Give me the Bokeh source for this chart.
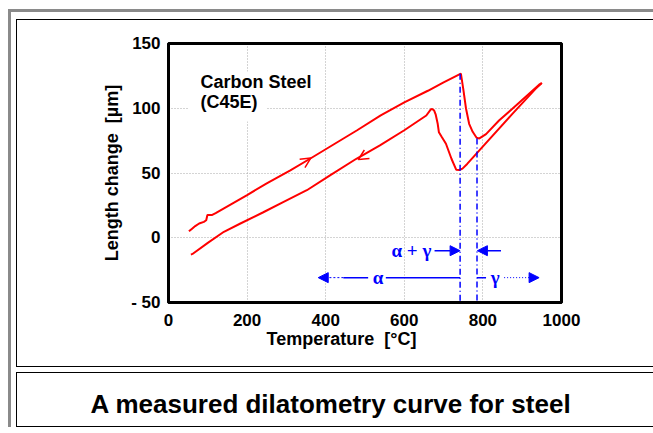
from bokeh.plotting import figure
from bokeh.models import (Range1d, FixedTicker, Label, Arrow, NormalHead, OpenHead,
                          BoxAnnotation, LinearAxis, Title, Column, Div,
                          GlobalInlineStyleSheet)
from bokeh.embed import file_html
from bokeh.resources import INLINE

# ---------------- data ----------------
heat_T = [52, 60, 68, 78, 90, 96, 99, 110, 120, 160, 200, 250, 310, 360, 420, 480,
          540, 600, 660, 700, 744, 750, 757, 765, 774, 784, 791, 808, 841, 875, 943, 950]
heat_L = [5, 7, 9, 11, 12.3, 13.5, 17.5, 17.5, 19, 26, 33, 42, 52, 61, 72, 83,
          94.5, 104.5, 113.5, 120, 126.7, 115, 99.8, 88, 81.8, 77.2, 76.7, 80, 90.5, 99.6, 118.2, 119.5]

cool_T = [950, 934, 875, 791, 760, 748, 740, 732, 720, 706, 695, 688, 685, 680, 676,
          671, 667, 656, 600, 538, 478, 411, 352, 293, 240, 183, 141, 100, 61, 57]
cool_L = [119.5, 115, 95.7, 67.5, 57, 53.4, 52.3, 52.6, 61, 72.6, 78, 81.5, 88, 95, 98.2,
          99.5, 99, 94.4, 83, 71.3, 61, 48.2, 36.7, 27.7, 19.5, 11, 4.6, -4, -12.5, -13]

x_ticks = [0, 200, 400, 600, 800, 1000]
y_ticks = [-50, 0, 50, 100, 150]
y_tick_text = {-50: "- 50"}

# transformation temperatures (vertical dash-dot lines) and where they start
phase_T = [742, 785]
phase_top = [126.7, 76.7]

# direction markers on the curves: (start, tip)
heat_arrow = (352, 59.6, 362, 61.5)
cool_arrow = (493, 62.3, 483, 60.5)

# blue range annotations
row1_y = -10
row2_y = -30.8

caption = "A measured dilatometry curve for steel"

# ---------------- layout ----------------
PW, PH = 660, 348           # chart box content size (runs past the right edge)
FL, FT, FW, FH = 151, 23, 393, 259
X0, X1, Y0, Y1 = 0, 1000, -50, 150

FONT = "Liberation Sans"
RED = "#ff0000"
BLUE = "#0000ff"
GRAY = "#8a8a8a"


def box_x(x):
    """pixel within chart box -> data x"""
    return X0 + (x - FL) / FW * (X1 - X0)


def box_y(y):
    return Y1 - (y - FT) / FH * (Y1 - Y0)


p = figure(width=PW, height=PH, output_backend="svg", toolbar_location=None,
           x_range=Range1d(X0, X1), y_range=Range1d(Y0, Y1),
           min_border_left=FL, min_border_top=FT,
           min_border_right=PW - FL - FW, min_border_bottom=PH - FT - FH,
           styles={"border-top": "1px solid black", "border-left": "1px solid black",
                   "border-bottom": "1px solid black"})
p.background_fill_color = "white"
p.border_fill_color = "white"
p.outline_line_color = "black"
p.outline_line_width = 3

for side in ("above", "right"):
    a = LinearAxis(axis_line_color="black", axis_line_width=3,
                   major_tick_line_color=None, minor_tick_line_color=None,
                   ticker=FixedTicker(ticks=[]))
    p.add_layout(a, side)

xa = p.below[0]
ya = p.left[0]
for ax in (xa, ya):
    ax.axis_line_color = "black"
    ax.axis_line_width = 3
    ax.major_tick_line_color = None
    ax.minor_tick_line_color = None
    ax.major_label_text_font = FONT
    ax.major_label_text_font_style = "bold"
    ax.major_label_text_font_size = "17px"
    ax.major_label_text_color = "black"

xa.ticker = FixedTicker(ticks=x_ticks)
ya.ticker = FixedTicker(ticks=y_ticks)
ya.major_label_overrides = y_tick_text
xa.major_label_standoff = 5
ya.major_label_standoff = 2

ya.axis_label = "Length change\u00a0 [µm]"
ya.axis_label_text_font = FONT
ya.axis_label_text_font_style = "bold"
ya.axis_label_text_font_size = "18px"
ya.axis_label_text_color = "black"
ya.axis_label_standoff = 6

for g in (p.xgrid, p.ygrid):
    g.grid_line_color = "#a8a8a8"
    g.grid_line_dash = "1 2"
    g.grid_line_width = 1
p.xgrid.ticker = FixedTicker(ticks=x_ticks[1:-1])
p.ygrid.ticker = FixedTicker(ticks=y_ticks[1:-1])

# x axis title, shifted left like in the picture
p.add_layout(Title(text="Temperature\u00a0 [°C]", align="left", offset=98,
                   vertical_align="top",
                   text_font=FONT, text_font_style="bold", text_font_size="18px",
                   text_color="black", standoff=0), "below")

# curves
p.line(heat_T, heat_L, line_color=RED, line_width=2)
p.line(cool_T, cool_L, line_color=RED, line_width=2)

# vertical dash-dot lines
p.segment(x0=phase_T, y0=phase_top, x1=phase_T, y1=[Y0, Y0],
          line_color=BLUE, line_width=1.5, line_dash="6 3 1 3")

# direction markers
for (xs, ys, xe, ye) in (heat_arrow, cool_arrow):
    p.add_layout(Arrow(end=OpenHead(size=10, line_color=RED, line_width=1.5),
                       x_start=xs, y_start=ys, x_end=xe, y_end=ye,
                       line_color=None))

# blue range arrows, row 1
p.add_layout(Arrow(end=NormalHead(size=10, fill_color=BLUE, line_color=BLUE),
                   x_start=677, y_start=row1_y, x_end=phase_T[0], y_end=row1_y,
                   line_color=BLUE, line_width=1.5))
p.add_layout(Arrow(end=NormalHead(size=10, fill_color=BLUE, line_color=BLUE),
                   x_start=846, y_start=row1_y, x_end=phase_T[1] + 1, y_end=row1_y,
                   line_color=BLUE, line_width=1.5))
# row 2
p.add_layout(Arrow(end=NormalHead(size=10, fill_color=BLUE, line_color=BLUE),
                   x_start=445, y_start=row2_y, x_end=381, y_end=row2_y,
                   line_color=BLUE, line_width=1, line_dash="2 2"))
p.segment(x0=[445, 553, phase_T[1]], y0=[row2_y] * 3,
          x1=[508, phase_T[0], 808], y1=[row2_y] * 3,
          line_color=BLUE, line_width=1.5)
p.add_layout(Arrow(end=NormalHead(size=10, fill_color=BLUE, line_color=BLUE),
                   x_start=854, y_start=row2_y, x_end=943, y_end=row2_y,
                   line_color=BLUE, line_width=1, line_dash="1 2"))

GREEK = "Liberation Serif"
for (tx, ty, tt) in ((618, row1_y, "α + γ"), (533, row2_y, "α"), (831, row2_y, "γ")):
    p.add_layout(Label(x=tx, y=ty, text=tt, text_align="center", text_baseline="middle",
                       text_font=GREEK, text_font_style="bold", text_font_size="19px",
                       text_color=BLUE))

# text block "Carbon Steel (C45E)" with white background hiding the grid
p.add_layout(BoxAnnotation(left=box_x(171), right=box_x(249), top=box_y(51), bottom=box_y(101),
                           fill_color="white", fill_alpha=1, line_color=None))
p.add_layout(Label(x=box_x(183), y=box_y(71.7), text="Carbon Steel", text_font=FONT,
                   text_font_style="bold", text_font_size="18px", text_color="black"))
p.add_layout(Label(x=box_x(183), y=box_y(91.7), text="(C45E)", text_font=FONT,
                   text_font_style="bold", text_font_size="18px", text_color="black"))

# caption box
cap = Div(text=caption, width=PW, height=55, margin=0,
          styles={"border-top": "1px solid black", "border-left": "1px solid black",
                  "border-bottom": "1px solid black", "font-family": FONT,
                  "font-weight": "bold", "font-size": "26px", "color": "black",
                  "text-align": "center", "line-height": "63px",
                  "padding-right": "32px", "box-sizing": "border-box",
                  "white-space": "nowrap", "background-color": "white"})

root = Column(children=[p, cap], spacing=5,
              styles={"margin-left": "8px", "margin-top": "9px",
                      "border-top": "3px solid " + GRAY, "border-left": "3px solid " + GRAY,
                      "padding-left": "5px", "padding-top": "7px"},
              stylesheets=[GlobalInlineStyleSheet(css="html, body { overflow: hidden; }")])

open("out.html", "w").write(file_html(root, INLINE))
